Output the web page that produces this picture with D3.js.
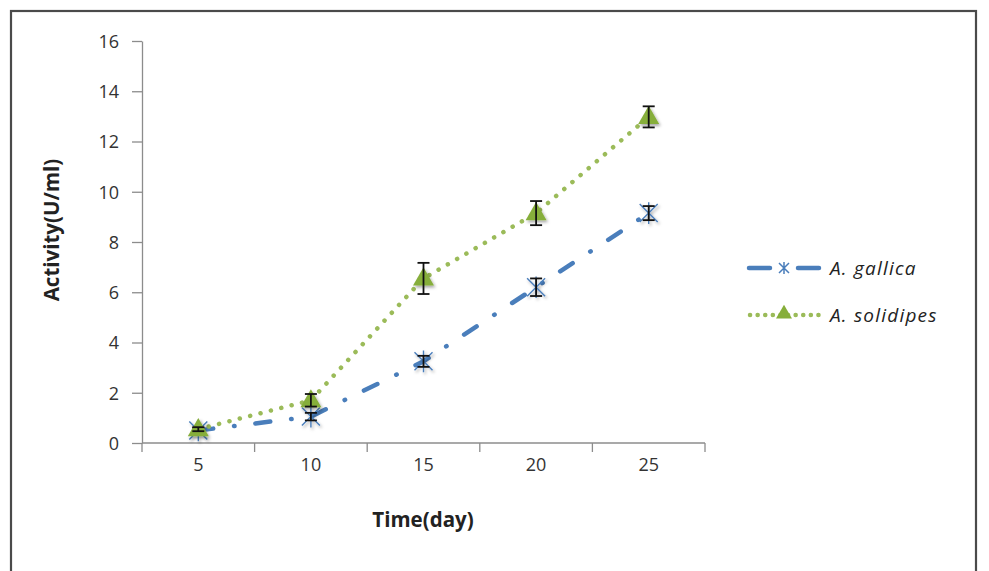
<!DOCTYPE html>
<html lang="en">
<head>
    <meta charset="UTF-8"/>
    <title>Activity over time</title>
    <script src="https://d3js.org/d3.v7.min.js" charset="utf-8"></script>
    <style type="text/css">
        body { margin: 0; background: #fff; }
        text { font-family: "Open Sans", "DejaVu Sans", sans-serif; fill: #222; }
        .axis path, .axis line { stroke: #8c8c8c; stroke-width: 1.3px; }
        .axis text { font-size: 18px; fill: #333; }
        .title { font-size: 20.5px; font-weight: 700; }
        .legend text { font-size: 19px; font-style: italic; letter-spacing: 1.2px; }
    </style>
</head>
<body>
<div id="chart"></div>
<script type="text/javascript">

    // data
    var days = ["5", "10", "15", "20", "25"];
    var gallica = [0.5, 1.05, 3.25, 6.2, 9.15];
    var gallicaErr = [0.1, 0.15, 0.22, 0.35, 0.28];
    var solidipes = [0.55, 1.7, 6.55, 9.15, 12.98];
    var solidipesErr = [0.08, 0.25, 0.62, 0.48, 0.42];
    var yTicks = [0, 2, 4, 6, 8, 10, 12, 14, 16];
    var seriesNames = ["A.  gallica", "A.  solidipes"];

    var W = 989, H = 571;
    var svg = d3.select("#chart").append("svg")
        .attr("width", W).attr("height", H);

    var defs = svg.append("defs");
    defs.append("filter").attr("id", "shadow")
        .attr("x", "-50%").attr("y", "-50%").attr("width", "200%").attr("height", "200%")
        .append("feDropShadow")
        .attr("dx", 1.5).attr("dy", 2).attr("stdDeviation", 1.5)
        .attr("flood-color", "#000").attr("flood-opacity", 0.35);

    // outer frame (bottom edge runs off the picture)
    svg.append("rect")
        .attr("x", 11).attr("y", 11).attr("width", 965).attr("height", 600)
        .attr("fill", "none").attr("stroke", "#4a4a4a").attr("stroke-width", 2.2);

    var x = d3.scaleBand().domain(days).range([142, 705]).padding(0);
    var y = d3.scaleLinear().domain([0, 16]).range([443, 41]);

    // y axis
    svg.append("g").attr("class", "axis")
        .attr("transform", "translate(142,0)")
        .call(d3.axisLeft(y).tickValues(yTicks).tickSize(10).tickSizeOuter(0).tickPadding(13))
        .call(function (g) { g.selectAll(".tick text").attr("dy", "0.35em"); });

    // x axis: labels centred in bands, ticks between bands
    var xAxis = svg.append("g").attr("class", "axis")
        .attr("transform", "translate(0,443)")
        .call(d3.axisBottom(x).tickSize(0).tickPadding(15));
    xAxis.select(".domain").attr("d", "M142,0H705");
    var edges = days.map(function (d) { return x(d); }).concat([x(days[days.length - 1]) + x.bandwidth()]);
    xAxis.selectAll(".edge").data(edges).enter().append("line")
        .attr("class", "edge")
        .attr("x1", function (d) { return d; }).attr("x2", function (d) { return d; })
        .attr("y1", 0).attr("y2", 9);

    // axis titles
    svg.append("text").attr("class", "title")
        .attr("transform", "translate(59,230) rotate(-90)")
        .attr("text-anchor", "middle").text("Activity(U/ml)");
    svg.append("text").attr("class", "title")
        .attr("x", 423).attr("y", 527)
        .attr("text-anchor", "middle").text("Time(day)");

    function cx(i) { return x(days[i]) + x.bandwidth() / 2; }

    var lineGen = function (vals) {
        return d3.line()
            .x(function (d, i) { return cx(i); })
            .y(function (d) { return y(d); })(vals);
    };

    var blue = "#4a7ebb", green = "#9bbb59";

    // series lines
    svg.append("path").attr("d", lineGen(gallica))
        .attr("fill", "none").attr("stroke", blue).attr("stroke-width", 4.5)
        .attr("stroke-linecap", "round").attr("stroke-dasharray", "15,21,0.5,21");
    svg.append("path").attr("d", lineGen(solidipes))
        .attr("fill", "none").attr("stroke", green).attr("stroke-width", 4.5)
        .attr("stroke-linecap", "round").attr("stroke-dasharray", "0.1,10.6");

    // markers
    function starPath(s) {
        return "M" + (-s) + "," + (-s) + "L" + s + "," + s +
            "M" + (-s) + "," + s + "L" + s + "," + (-s) +
            "M0," + (-s * 1.2) + "L0," + (s * 1.2);
    }
    var tri = d3.symbol().type(d3.symbolTriangle).size(190);

    function errorBars(vals, errs) {
        var g = svg.append("g").attr("stroke", "#111").attr("stroke-width", 1.8);
        vals.forEach(function (v, i) {
            var top = y(v + errs[i]), bot = y(v - errs[i]), c = cx(i);
            g.append("line").attr("x1", c).attr("x2", c).attr("y1", top).attr("y2", bot);
            g.append("line").attr("x1", c - 6).attr("x2", c + 6).attr("y1", top).attr("y2", top);
            g.append("line").attr("x1", c - 6).attr("x2", c + 6).attr("y1", bot).attr("y2", bot);
        });
    }

    svg.append("g").selectAll("path").data(gallica).enter().append("path")
        .attr("d", starPath(9))
        .attr("transform", function (d, i) { return "translate(" + cx(i) + "," + y(d) + ")"; })
        .attr("fill", "none").attr("stroke", blue).attr("stroke-width", 1.4)
        .attr("filter", "url(#shadow)");
    errorBars(gallica, gallicaErr);

    svg.append("g").selectAll("path").data(solidipes).enter().append("path")
        .attr("d", tri)
        .attr("transform", function (d, i) { return "translate(" + cx(i) + "," + (y(d) + 1) + ")"; })
        .attr("fill", "#86ae3a").attr("filter", "url(#shadow)");
    errorBars(solidipes, solidipesErr);

    // legend
    var legend = svg.append("g").attr("class", "legend");
    var ly = [268, 315];
    legend.append("path").attr("d", "M749," + ly[0] + "H770M798," + ly[0] + "H819")
        .attr("stroke", blue).attr("stroke-width", 4.5).attr("stroke-linecap", "round");
    legend.append("path").attr("d", starPath(5))
        .attr("transform", "translate(784," + ly[0] + ")")
        .attr("fill", "none").attr("stroke", blue).attr("stroke-width", 1.5);
    legend.append("path").attr("d", "M750," + ly[1] + "H820")
        .attr("stroke", green).attr("stroke-width", 4.5).attr("stroke-linecap", "round")
        .attr("stroke-dasharray", "0.1,7.5");
    legend.append("path").attr("d", d3.symbol().type(d3.symbolTriangle).size(110))
        .attr("transform", "translate(784," + (ly[1] - 1) + ")")
        .attr("fill", "#86ae3a");
    legend.selectAll("text").data(seriesNames).enter().append("text")
        .attr("x", 830).attr("y", function (d, i) { return ly[i]; })
        .attr("dy", "0.35em").text(function (d) { return d; });
</script>
</body>
</html>
